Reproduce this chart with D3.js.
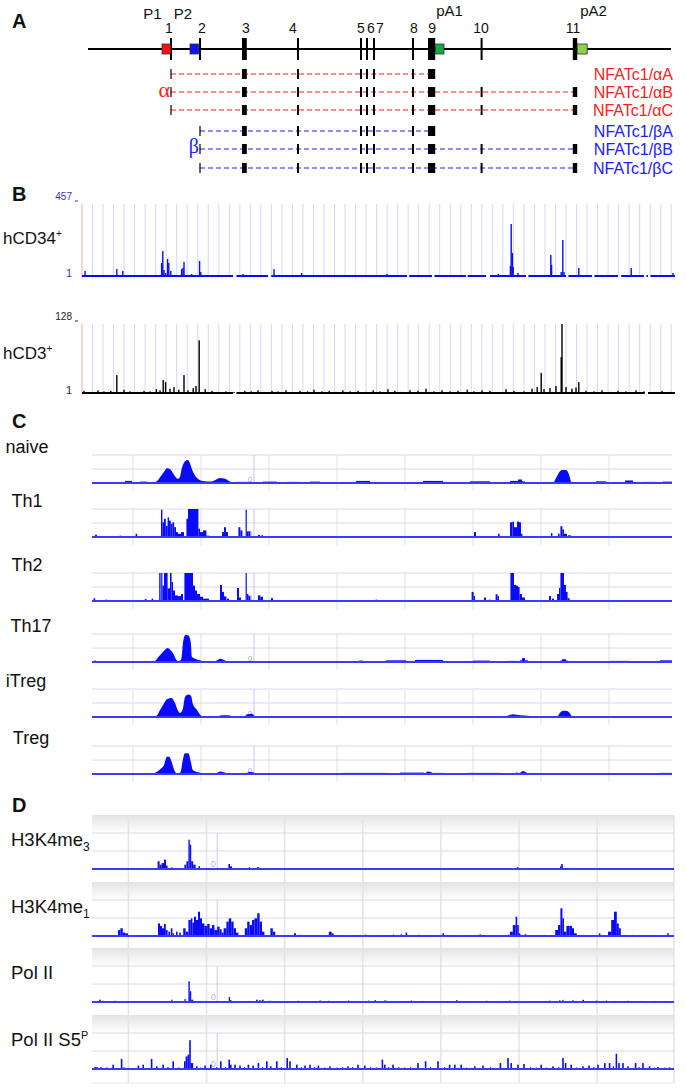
<!DOCTYPE html>
<html><head><meta charset="utf-8">
<script src="https://cdn.jsdelivr.net/npm/d3@7"></script>
<style>body{margin:0;background:#fff;}svg{display:block;font-family:"Liberation Sans",Arial,sans-serif;}</style>
</head><body><svg id="chart" width="686" height="1089"></svg>
<script>
// ======================= DATA =======================
// Panel A - NFATc1 gene model (positions in kb from region start)
const exonIds = ["1","2","3","4","5","6","7","8","9","10","11"];
const exonPos = [20.75,28,39.1,52.5,68.25,69.75,71.5,81.25,85.9,98.4,121.75];
const exonLen = [0.5,0.5,1.2,0.5,0.4,0.4,0.4,0.5,1.8,0.5,1.1];
const promoterNames = ["P1","P2"];
const promoterSpan = [[18.5,20.7],[25.5,27.7]];
const polyANames = ["pA1","pA2"];
const polyASpan = [[86.8,89],[122.3,124.8]];
const transcriptNames = ["NFATc1/αA","NFATc1/αB","NFATc1/αC","NFATc1/βA","NFATc1/βB","NFATc1/βC"];
const transcriptGroup = ["α","α","α","β","β","β"];
const transcriptExons = [
  [1,3,4,5,6,7,8,9],[1,3,4,5,6,7,8,9,10,11],[1,3,4,5,6,7,8,9,10,11],
  [2,3,4,5,6,7,8,9],[2,3,4,5,6,7,8,9,10,11],[2,3,4,5,6,7,8,9,10,11]];

// Panel B - DNase hypersensitivity tracks ([kb, value])
const bTrackNames = ["hCD34","hCD3"];
const bTrackMax = [457,128];
const hCD34 = [[0.75,33],[8.7,45],[10.2,33],[19.9,83],[20.2,159],[20.5,39],[20.9,20],[21.4,109],[21.7,83],[22.2,33],
  [24.9,45],[25.25,52],[25.5,90],[27.4,14],[29.4,96],[29.7,26],[40.25,14],[48,45],[54.9,20],[76.25,14],[104.1,14],
  [107.1,64],[107.3,330],[107.6,147],[107.8,58],[109,20],[117.2,134],[117.4,71],[119.8,26],[120.2,229],[120.5,26],
  [124.2,52],[137.3,52],[147.75,20]];
const hCD34Coverage = [[0,37.75],[38.6,46.5],[47.3,81.25],[81.8,87.5],[88.1,96],[96.4,101],[102,111],[111.6,121],
  [121.6,127.5],[128.1,134],[134.8,140.5],[141.1,141.5],[142.1,148.25]];
const hCD3 = [[8.7,34],[20.3,25],[20.9,21],[25.5,34],[29.3,98],[114.8,38],[119.8,67],[120.0,128],[124.2,21],
  [0.5,5],[2.4,3],[4,6],[5.5,4],[7.2,5],[10.5,7],[12,4],[13.8,3],[15.5,5],[17,4],[18.6,8],[19.5,6],[22,9],[23,12],
  [24.2,7],[26.5,6],[27.8,10],[28.5,14],[30.8,8],[32.5,5],[34,3],[36,4],[38,3],[40.7,5],[42.3,4],[44,6],[45.6,3],
  [47.5,5],[49,4],[51,6],[52.6,3],[54.5,5],[56.4,4],[58,7],[60,4],[61.8,5],[63.5,3],[65.2,6],[67,4],[69,5],[71,3],
  [72.8,6],[74.5,4],[76.5,8],[78.2,5],[80,3],[82,6],[84,5],[86,9],[88,4],[90,6],[92,4],[94,5],[96.3,7],[98,4],
  [100,6],[102,5],[104,3],[106,8],[108,5],[110.5,4],[112.5,9],[113.8,12],[115.5,8],[117,10],[118.5,14],[121,12],
  [122.5,9],[123.5,11],[126,5],[128,4],[130,6],[132,3],[134,5],[136,4],[138.5,6],[140.5,4],[143,3],[145,5],[147,3]];
const hCD3Coverage = [[0,37.75],[38.6,140.7],[141.5,148.25]];

// Panel C - T cell subsets: smooth profiles [kb, signal] and bars [start, end, signal]
const cTrackNames = ["naive","Th1","Th2","Th17","iTreg","Treg"];
const naiveShape = [[15.25,0],[16.25,0.15],[17.25,0.5],[18,0.8],[18.75,1.05],[19.5,1.0],[20.25,0.7],[21,0.4],[21.5,0.3],
  [22,0.45],[22.5,1.1],[23.25,1.55],[24,1.65],[24.5,1.4],[25.25,0.8],[26.25,0.35],[27,0.2],[28.25,0.12],[29.5,0.1],
  [30.75,0.2],[32,0.35],[33.25,0.3],[34.5,0.1],[35.75,0],[115.25,0],[116,0.35],[116.75,0.75],[117.5,0.92],
  [118.5,0.92],[119.25,0.6],[119.75,0.1],[120.25,0]];
const naiveBars = [[0,7,0.06],[8.25,10,0.15],[10,12,0.05],[12,13.75,0.1],[13.75,15.5,0.06],[35.5,40,0.08],[41,42.5,0.05],
  [42.75,46.25,0.1],[46.25,48.75,0.05],[48.75,52,0.08],[52,54.5,0.05],[54.5,57,0.1],[57,58.75,0.05],[58.75,62,0.07],
  [62,66,0.05],[66,69.5,0.15],[69.5,82.75,0.06],[82.75,87.75,0.15],[87.75,94.5,0.06],[94.5,99.5,0.12],[99.5,104.5,0.06],
  [104.5,106.5,0.15],[106.5,107.5,0.25],[107.5,108.25,0.12],[108.25,115,0.06],[120.5,126,0.06],[126,128.5,0.12],
  [128.5,133.25,0.05],[133.25,135.25,0.18],[135.25,137.75,0.05],[137.75,141,0.08],[141,142.75,0.05],[142.75,145,0.1]];
const th1Bars = [[0.75,1.25,0.16],[6.9,7.3,0.1],[10.9,11.3,0.23],
  [17.25,17.6,1.95],[17.6,18,1.05],[18,18.45,1.3],[18.45,18.9,0.8],[18.9,19.25,1.4],[19.25,19.7,1.17],[19.7,20.1,0.94],
  [20.1,20.55,1.05],[20.55,21,0.7],[21,21.5,0.35],[21.5,22.25,0.23],[22.25,23,0.35],
  [23.6,24,1.3],[24,26.6,2],[26.6,27,0.6],[27,27.75,0.35],[27.75,28.6,0.47],[28.6,29.25,0.1],[30,30.5,0.05],
  [32.5,33,0.35],[33,33.5,0.7],[33.5,34,0.35],[36.6,37.1,0.7],[37.1,37.6,0.47],[38.4,38.7,1.95],[38.7,39.1,0.4],
  [39.1,39.6,0.4],[41.5,42,0.15],[42.3,42.75,0.12],
  [95.5,96,0.35],[101.5,101.9,0.23],[103.5,103.8,0.05],[104.5,105.1,1.05],[105.1,105.5,1.1],[105.5,106.25,0.7],
  [106.25,106.75,1.1],[106.75,107.25,1.05],[107.25,107.6,0.23],
  [114.75,115.1,0.28],[116.5,116.9,0.23],[117.1,117.6,0.77],[117.6,118,0.54],[118,118.75,0.23],[119,119.75,0.12]];
const th2Bars = [[0.4,0.8,0.2],[3.4,3.8,0.1],[13.2,13.6,0.15],[14.9,15.3,0.17],
  [16.8,17.15,2],[17.3,17.6,2],[17.6,18,1.1],[18,18.5,2],[18.5,18.9,2],[18.9,19.5,0.9],[19.5,19.9,2],[19.9,20.25,1.35],
  [20.25,20.75,0.75],[20.75,21.5,0.4],[21.5,22.25,0.35],[22.25,22.75,0.5],
  [23.1,23.5,2],[23.5,25.25,2],[25.25,25.75,1.1],[25.75,26.25,0.75],[26.25,27,0.5],[27,27.75,0.3],[27.75,28.5,0.17],
  [28.5,29.25,0.17],[32,32.5,1.15],[32.5,33,0.65],[33,33.6,0.33],[33.75,34.25,0.17],[36.25,36.75,0.93],[36.75,37.25,0.25],
  [38.4,38.7,2],[38.7,39.1,0.5],[39.1,39.6,0.35],[41.5,42.1,0.4],[42.1,42.75,0.3],[44.75,45.25,0.2],
  [70.9,71.3,0.1],[90.25,90.6,0.07],[94.9,95.4,0.65],[95.4,95.75,0.35],[98,98.5,0.25],[99.25,99.6,0.1],[100.9,101.4,0.48],
  [101.4,101.75,0.35],[104.6,105.5,2],[105.5,106,1.15],[106,106.5,1.1],[106.5,106.9,1],[106.9,107.5,0.5],[107.5,108.25,0.25],
  [114.25,114.75,0.35],[115,115.5,0.17],[116.25,116.75,0.5],[116.75,117.1,0.93],[117.1,118,2],[118,118.5,1.15],
  [118.5,118.9,0.65],[118.9,119.4,0.2]];
const th17Shape = [[15.25,0],[15.75,0.07],[16.6,0.35],[17.4,0.6],[18.25,0.87],[18.9,1.0],[19.7,0.82],[20.3,0.6],[20.9,0.24],
  [21.6,0.07],[22.2,0.12],[22.4,0.35],[22.8,1.5],[23.4,1.95],[24.1,1.9],[24.7,1.4],[24.95,0.4],[25.75,0.24],[27,0.12],
  [27.75,0.04],[28.25,0],[30.5,0],[31.25,0.12],[32,0.24],[32.75,0.18],[33.75,0.05],[34.25,0]];
const th17Bars = [[0.5,1,0.1],[1.5,2.5,0.05],[3.75,4.25,0.05],[6.25,6.75,0.05],[8,8.5,0.05],[12,13.75,0.06],[29.75,30.25,0.05],
  [34.75,35.25,0.05],[36.75,37.25,0.05],[42.25,42.75,0.05],[44.25,44.75,0.05],[46.25,46.75,0.05],[49.25,49.75,0.05],
  [51.75,52.25,0.06],[54.25,54.75,0.05],[57.25,57.75,0.06],[60.5,61,0.05],[62.75,65.5,0.06],[66.75,67.75,0.1],[69.5,70.5,0.06],
  [73.5,78.5,0.12],[80.75,87.75,0.15],[90.5,91,0.05],[95.25,99.5,0.1],[100.5,101,0.05],[104,106,0.08],[107,107.5,0.12],
  [107.5,108.25,0.28],[108.25,109,0.12],[111.75,112.25,0.05],[114.75,115.25,0.05],[117,117.5,0.1],[117.5,118.5,0.2],
  [118.5,119,0.1],[120.25,127.75,0.07],[129.5,134.5,0.08],[137.75,138.5,0.05],[142,145,0.12]];
const iTregShape = [[15.5,0],[16.2,0.1],[16.8,0.4],[17.8,0.88],[18.8,1.29],[19.9,1.36],[20.75,1.0],[21.4,0.52],[22,0.29],
  [22.7,0.57],[23.25,1.43],[24.1,1.6],[24.75,1.52],[25.2,0.95],[26.2,0.52],[27.25,0.1],[27.75,0],[31.25,0],[32,0.1],
  [33.25,0.12],[34.5,0.1],[35,0],[38,0],[38.75,0.2],[40,0.24],[41,0],[103,0],[104,0.1],[105.25,0.2],[107,0.12],
  [109.5,0.08],[110.25,0],[116.25,0],[117,0.3],[117.75,0.45],[118.75,0.42],[119.5,0.25],[120,0]];
const iTregBars = [[0.75,1.5,0.06],[2,2.5,0.05],[4,4.5,0.05],[7,7.5,0.05],[45.25,45.75,0.05],[47.5,48,0.05],[52,52.5,0.05],
  [57,57.5,0.05],[60.25,62.75,0.06],[64.25,64.75,0.05],[67.75,69.75,0.07],[73,73.5,0.05],[83.5,87.75,0.07],[94.75,96,0.07],
  [98,98.5,0.05],[102,102.5,0.05],[124,124.5,0.05],[127,127.5,0.05],[131.5,132.5,0.07],[137,137.5,0.05],[138.5,139,0.05]];
const tregShape = [[15.25,0],[15.9,0.1],[17,0.33],[18,0.64],[18.7,1.24],[19.3,1.24],[19.9,0.88],[20.5,0.33],[21.2,0.05],
  [21.75,0.05],[22.2,0.17],[22.7,1.0],[23.25,1.48],[24.1,1.48],[24.7,0.88],[25.2,0.29],[26.6,0.12],[27.5,0.04],[28,0],
  [30.75,0],[32,0.17],[33.5,0.08],[34.25,0],[38.25,0],[39.25,0.15],[40.25,0.12],[41,0],[83,0],[84,0.17],[85,0.1],
  [85.5,0],[106.5,0],[107.75,0.21],[108.75,0.08],[109.25,0]];
const tregBars = [[0.75,15,0.06],[27.5,31,0.05],[34.5,38.5,0.05],[40.25,62.75,0.06],[62.75,73.5,0.08],[77,83,0.1],
  [85.5,87.75,0.08],[93.5,102,0.08],[106,106.5,0.1],[109.25,109.5,0.08],[110.25,114.5,0.05],[122.75,127.75,0.07],
  [129.5,133.5,0.07],[142,145,0.08]];
const cShapes = [naiveShape,null,null,th17Shape,iTregShape,tregShape];
const cBars = [naiveBars,th1Bars,th2Bars,th17Bars,iTregBars,tregBars];

// Panel D - histone marks / Pol II ([start, end, signal])
const dTrackNames = ["H3K4me","H3K4me","Pol II","Pol II S5"];
const dTrackScripts = ["3","1","","P"];
const h3k4me3Bars = [[16.4,16.9,0.43],[16.9,17.4,0.24],[17.4,18,0.33],[18,18.5,0.52],[18.5,18.9,0.19],[19.8,20.1,0.1],
  [23.1,23.5,0.24],[23.6,24.1,0.43],[24.1,24.45,1.63],[24.45,24.8,1.35],[24.8,25.3,0.43],[25.3,25.9,0.24],[26.6,27,0.15],
  [34.1,34.5,0.28],[34.5,35,0.15],[39.2,39.5,0.1],[41.2,41.8,0.1],[106.2,106.6,0.1],[117,117.3,0.15],[117.3,117.7,0.28]];
const h3k4me1Bars = [[1.8,2.2,0.05],[3.1,3.4,0.05],[6.5,7.1,0.33],[7.1,7.7,0.43],[7.7,8.3,0.19],[8.3,9,0.15],[9.8,10.1,0.05],
  [11.1,11.4,0.06],[12.3,12.6,0.06],[13.6,13.9,0.05],[14.8,15.1,0.06],
  [16.5,17,0.7],[17,17.5,0.56],[17.5,18,0.43],[18,18.45,0.67],[18.45,18.9,0.33],[19.1,19.5,0.24],[19.7,20.1,0.43],
  [20.1,20.5,0.15],[21,21.4,0.24],[21.8,22.2,0.19],[22.8,23.4,0.43],[23.4,24.1,0.24],[24.1,24.7,0.89],[24.7,25.1,0.98],
  [25.1,25.5,0.74],[25.5,26,1.07],[26,26.5,0.89],[26.5,27,1.35],[27,27.5,0.98],[27.5,28.1,0.7],[28.1,28.8,0.56],
  [28.8,29.4,0.67],[29.4,30,0.43],[30,30.6,0.61],[30.6,31.3,0.33],[31.3,31.9,0.52],[31.9,32.4,0.37],[32.4,32.9,0.19],
  [32.9,33.6,0.43],[33.6,34.2,0.8],[34.2,34.8,0.98],[34.8,35.4,0.8],[35.4,36,0.43],[36,36.6,0.19],[36.8,37.2,0.05],
  [38.2,38.8,0.43],[38.8,39.4,0.8],[39.4,40,0.61],[40,40.6,0.89],[40.6,41.3,0.98],[41.3,41.9,1.26],[41.9,42.5,0.8],
  [42.5,43.1,0.24],[43.5,43.9,0.05],[44.6,45.2,0.43],[45.2,45.8,0.24],[46.8,47.2,0.05],[48.9,49.3,0.06],[50.5,51,0.15],
  [51.8,52.2,0.06],[54.7,55,0.05],[57.2,57.6,0.06],[59.2,59.9,0.24],[59.9,60.4,0.15],
  [64,64.3,0.06],[66.5,66.8,0.05],[68.2,68.5,0.08],[70.2,70.5,0.06],[71.5,71.8,0.05],[72.7,73,0.06],[75.2,75.5,0.08],
  [76,76.3,0.06],[77.2,77.5,0.1],[78.4,78.8,0.19],[79.5,79.8,0.05],[81.5,81.8,0.07],[84.5,84.8,0.05],[87,87.3,0.06],
  [87.6,88,0.15],[91.5,91.8,0.06],[92.2,92.5,0.05],[96,96.3,0.06],[96.9,97.2,0.1],[97.7,98,0.06],[99,99.3,0.06],
  [102,102.3,0.06],[104,104.3,0.08],
  [104.5,105.2,0.24],[105.2,105.9,0.61],[105.9,106.3,1.07],[106.3,106.7,0.61],[106.7,107.1,0.15],[108.2,108.6,0.1],
  [109.6,110,0.06],[113,113.4,0.06],[115.8,116.5,0.33],[116.5,117.1,0.61],[117.1,117.6,1.54],[117.6,118,0.98],
  [118,118.6,0.24],[118.6,119.4,0.56],[119.4,120,0.56],[120,120.5,0.43],[120.5,121.2,0.15],[123.4,123.8,0.05],
  [126.7,127.1,0.15],[129,129.8,0.24],[129.8,130.5,0.89],[130.5,131.2,1.35],[131.2,131.7,0.7],[131.7,132.2,0.43],
  [133,133.4,0.06],[135,135.5,0.06],[138,138.3,0.05],[143.8,144.2,0.15]];
const polIIBars = [[1.8,2.2,0.13],[2.7,3,0.07],[5.6,5.9,0.07],[8.5,8.8,0.05],[10.6,10.9,0.05],[14.8,15.1,0.05],[19.8,20.1,0.13],
  [23.1,23.4,0.17],[24.1,24.45,1.15],[24.45,24.8,0.6],[24.8,25.3,0.13],[26.9,27.2,0.06],[34.2,34.5,0.28],[34.5,34.9,0.1],
  [39.1,39.4,0.06],[41,41.4,0.13],[41.8,42.2,0.1],[42.5,42.9,0.13],[44.4,44.7,0.07],[51.4,51.7,0.07],[56.9,57.2,0.09],
  [59,59.3,0.07],[64,64.3,0.08],[66.5,66.8,0.06],[69,69.3,0.08],[70.6,71,0.1],[73,73.6,0.08],[76,76.3,0.06],[79.7,80,0.08],
  [82.6,82.9,0.06],[91,91.4,0.1],[94.3,94.6,0.06],[98.5,98.8,0.07],[101.4,101.7,0.06],[104.3,104.6,0.08],[106.8,107.1,0.06],
  [114.3,114.6,0.08],[116.8,117.1,0.1],[117.6,117.9,0.12],[120.1,120.4,0.1],[122.6,123,0.12],[126,126.3,0.08],
  [128.5,128.8,0.08],[130.1,130.4,0.06],[133.9,134.2,0.07],[137.2,137.5,0.06],[140.1,140.4,0.06],[143.1,143.4,0.06]];
const polIIS5PBars = [[0.5,1.5,0.1],[2,2.4,0.1],[3.5,3.9,0.08],[5.1,5.5,0.24],[7.2,7.6,0.56],[7.8,8.2,0.09],[9,9.4,0.06],
  [11.4,11.8,0.19],[12.6,13,0.24],[14.7,15.1,0.56],[16,16.4,0.15],[17.6,18,0.24],[18.8,19.2,0.1],[20.1,20.5,0.43],
  [21.5,21.9,0.08],[23,23.4,0.43],[23.4,23.9,0.7],[23.9,24.3,0.8],[24.3,24.7,1.6],[24.7,25.3,0.33],[26,26.4,0.15],
  [27,27.3,0.08],[28.05,28.45,0.19],[29.5,29.9,0.24],[31,31.3,0.1],[32,32.4,0.43],[33.2,33.5,0.1],[34.1,34.5,0.52],
  [34.5,34.9,0.24],[35.55,35.95,0.24],[36.8,37.2,0.19],[38,38.3,0.1],[38.9,39.3,0.24],[40.1,40.5,0.19],[41.4,41.8,0.33],
  [42.5,42.8,0.1],[43.5,43.9,0.43],[44.5,44.9,0.15],[46,46.4,0.43],[47.2,47.5,0.1],[48.6,49,0.61],[49.3,49.7,0.43],
  [51,51.4,0.24],[52.2,52.5,0.1],[53.05,53.45,0.19],[54.3,54.7,0.24],[55.5,55.8,0.1],[56.4,56.8,0.19],[58,58.3,0.08],
  [59.3,59.7,0.15],[61,61.3,0.08],[62.5,62.8,0.1],[63.8,64.2,0.15],[65,65.3,0.1],[66.3,66.7,0.24],[68,68.4,0.19],
  [69.5,69.8,0.1],[71,71.3,0.08],[72.4,72.8,0.52],[73,73.4,0.24],[74,74.3,0.1],[75.05,75.45,0.24],[76.5,76.8,0.1],
  [78,78.3,0.08],[79.5,79.8,0.1],[81.3,81.7,0.33],[83.2,83.6,0.43],[84.5,84.8,0.1],[86.3,86.7,0.43],[88,88.3,0.1],
  [89.2,89.6,0.24],[90.5,90.9,0.24],[92.1,92.5,0.24],[93.5,93.8,0.08],[95.5,95.9,0.15],[97.55,97.95,0.19],[99.5,99.8,0.1],
  [101.9,102.3,0.33],[103.8,104.2,0.61],[104.6,105,0.33],[106.3,106.7,0.24],[107.8,108.2,0.28],[109.5,109.8,0.1],
  [111,111.3,0.08],[112.1,112.5,0.24],[113.5,113.8,0.08],[115.05,115.45,0.15],[116.5,116.8,0.1],[117.55,117.95,0.61],
  [118.2,118.6,0.33],[119.6,120,0.24],[121,121.3,0.08],[122.55,122.95,0.15],[124.05,124.45,0.19],[125.3,125.6,0.1],
  [126.3,126.7,0.24],[128,128.4,0.33],[129.2,129.6,0.33],[130.2,130.5,0.15],[130.9,131.3,0.85],[131.55,131.95,0.33],
  [132.55,132.95,0.33],[133.8,134.2,0.15],[135.7,136.1,0.33],[136.6,136.9,0.1],[137.55,137.95,0.33],[139.2,139.6,0.15],
  [140.5,140.8,0.08],[141.3,141.7,0.11],[143,143.3,0.08],[144.2,144.6,0.09]];
const dBars = [h3k4me3Bars,h3k4me1Bars,polIIBars,polIIS5PBars];

// ======================= LAYOUT / STYLE =======================
const svg = d3.select("#chart");
const BLUE = "#0a0aff";
const defs = svg.append("defs");
const grad = defs.append("linearGradient").attr("id","band").attr("x1",0).attr("x2",0).attr("y1",0).attr("y2",1);
grad.append("stop").attr("offset","0%").attr("stop-color","#e3e3e3");
grad.append("stop").attr("offset","100%").attr("stop-color","#ffffff");

// panel letters
[["A",28],["B",201],["C",428],["D",812]].forEach(([t,y]) =>
  svg.append("text").attr("x",12).attr("y",y).attr("font-size",20).attr("font-weight","bold").attr("fill","#111").text(t));

// ---------- Panel A ----------
const xA = d3.scaleLinear().domain([0,145.75]).range([88,671]);
const gA = svg.append("g");
const exW = i => Math.max(2, xA(exonLen[i]) - xA(0));
gA.append("line").attr("x1",xA(0)).attr("x2",xA(145.75)).attr("y1",49).attr("y2",49).attr("stroke","#000").attr("stroke-width",2);
gA.selectAll("rect.exon").data(exonPos).join("rect").attr("class","exon")
  .attr("x",(d,i)=>xA(d)-exW(i)/2).attr("width",(d,i)=>exW(i)).attr("y",38).attr("height",22).attr("fill","#000");
const exonLabelDx = [-2,2,1.5,-5,0,4,6,1,0.5,-0.5,-2];
gA.selectAll("text.exl").data(exonIds).join("text").attr("class","exl")
  .attr("x",(d,i)=>xA(exonPos[i])+exonLabelDx[i]).attr("y",33).attr("text-anchor","middle")
  .attr("font-size",14).attr("fill","#111").text(d=>d);
const promColors = ["#ff1010","#1010ff"], polyAColors = ["#14a848","#8dd04e"];
gA.selectAll("rect.prom").data(promoterSpan).join("rect").attr("class","prom")
  .attr("x",d=>xA(d[0])).attr("width",d=>xA(d[1])-xA(d[0])).attr("y",44).attr("height",10)
  .attr("fill",(d,i)=>promColors[i]).attr("stroke","#333").attr("stroke-width",0.8);
gA.selectAll("rect.pa").data(polyASpan).join("rect").attr("class","pa")
  .attr("x",d=>xA(d[0])).attr("width",d=>xA(d[1])-xA(d[0])).attr("y",44).attr("height",10)
  .attr("fill",(d,i)=>polyAColors[i]).attr("stroke","#333").attr("stroke-width",0.8);
const promLabelDx = [-9.5,-7];
gA.selectAll("text.pl").data(promoterNames).join("text").attr("class","pl")
  .attr("x",(d,i)=>xA(promoterSpan[i][0])+promLabelDx[i]).attr("y",19).attr("text-anchor","middle")
  .attr("font-size",15).attr("fill","#111").text(d=>d);
const paLabelDx = [1,3];
gA.selectAll("text.pal").data(polyANames).join("text").attr("class","pal")
  .attr("x",(d,i)=>xA(polyASpan[i][0])+paLabelDx[i]).attr("y",16)
  .attr("font-size",15).attr("fill","#111").text(d=>d);

const rowY = [74,92,110,131,149,168];
const grpColor = {"α":"#ff2020","β":"#2020ff"};
transcriptNames.forEach((name,r)=>{
  const y = rowY[r], ex = transcriptExons[r], col = grpColor[transcriptGroup[r]];
  const x0 = xA(exonPos[ex[0]-1]), x1 = xA(exonPos[ex[ex.length-1]-1]);
  gA.append("line").attr("x1",x0).attr("x2",x1).attr("y1",y).attr("y2",y)
    .attr("stroke",col).attr("stroke-width",1.2).attr("stroke-dasharray","5,3");
  gA.selectAll(null).data(ex).join("rect")
    .attr("x",(e,k)=>{const w = k===0?1.2:Math.max(1.6,exW(e-1)); return xA(exonPos[e-1])-w/2;})
    .attr("width",(e,k)=>k===0?1.2:Math.max(1.6,exW(e-1)))
    .attr("y",y-5).attr("height",10).attr("fill","#000");
  gA.append("text").attr("x",673).attr("y",y+5.5).attr("text-anchor","end").attr("font-size",16)
    .attr("fill",col).text(name);
});
gA.append("text").attr("x",xA(exonPos[0])-1).attr("y",97).attr("text-anchor","end")
  .attr("font-family","'Liberation Serif',serif").attr("font-size",22).attr("fill","#ff2020").text("α");
gA.append("text").attr("x",xA(exonPos[1])-1).attr("y",153).attr("text-anchor","end")
  .attr("font-family","'Liberation Serif',serif").attr("font-size",20).attr("fill","#2020ff").text("β");

// ---------- Panel B ----------
const xB = d3.scaleLinear().domain([0,148.25]).range([82,675]);
const bLayout = [{top:204,base:276,labelY:244,color:"#0a0aff",numColor:"#3434c8",data:hCD34,cov:hCD34Coverage},
                 {top:324,base:393,labelY:359,color:"#000",numColor:"#222",data:hCD3,cov:hCD3Coverage}];
const gridB = d3.range(1,57).map(i=>i*147.3/56);
bLayout.forEach((L,t)=>{
  const g = svg.append("g");
  const y = d3.scaleLinear().domain([1,bTrackMax[t]]).range([L.base,L.top]).clamp(true);
  g.selectAll("line.gr").data(gridB).join("line").attr("x1",d=>xB(d)).attr("x2",d=>xB(d))
    .attr("y1",L.top).attr("y2",L.base).attr("stroke","#d6d6f6").attr("stroke-width",1);
  g.append("line").attr("x1",xB(0)).attr("x2",xB(0)).attr("y1",L.top).attr("y2",L.base+2).attr("stroke","#f0a8a8");
  g.selectAll("rect").data(L.data).join("rect").attr("x",d=>xB(d[0])-0.7).attr("width",1.4)
    .attr("y",d=>y(d[1])).attr("height",d=>L.base-y(d[1])).attr("fill",L.color);
  g.selectAll("line.cov").data(L.cov).join("line").attr("x1",d=>xB(d[0])).attr("x2",d=>xB(d[1]))
    .attr("y1",L.base).attr("y2",L.base).attr("stroke",L.color).attr("stroke-width",2);
  g.append("text").attr("x",72).attr("y",L.top-4).attr("text-anchor","end").attr("font-size",10)
    .attr("font-family","'Liberation Sans Narrow','Liberation Sans',sans-serif").attr("fill",L.numColor).text(bTrackMax[t]);
  g.append("line").attr("x1",75).attr("x2",78).attr("y1",L.top-3).attr("y2",L.top-3).attr("stroke",L.numColor);
  g.append("text").attr("x",72).attr("y",L.base+1).attr("text-anchor","end").attr("font-size",11)
    .attr("fill",L.numColor).text("1");
  const lt = g.append("text").attr("x",3).attr("y",L.labelY).attr("font-size",17).attr("fill","#111");
  lt.append("tspan").text(bTrackNames[t]);
  lt.append("tspan").attr("font-size",10).attr("dy",-7).text("+");
});

// ---------- Panel C ----------
const xC = d3.scaleLinear().domain([0,145]).range([92,672]);
const cBase = [483,537,601,662,717,774];
const cLabelX = [27,27,27,31,26,31];
const gridC = d3.range(0,8).map(i=>10.25+17*i);
cTrackNames.forEach((name,t)=>{
  const base = cBase[t], g = svg.append("g");
  const y = d3.scaleLinear().domain([0,2]).range([base,base-28]).clamp(true);
  g.selectAll("line.h").data([1,2]).join("line").attr("x1",xC(0)).attr("x2",xC(145))
    .attr("y1",d=>y(d)).attr("y2",d=>y(d)).attr("stroke","#d8d8f0");
  g.selectAll("line.v").data(gridC).join("line").attr("x1",d=>xC(d)).attr("x2",d=>xC(d))
    .attr("y1",y(2)).attr("y2",base+8).attr("stroke","#dedee8");
  g.append("line").attr("x1",xC(40.5)).attr("x2",xC(40.5)).attr("y1",y(2)).attr("y2",base).attr("stroke","#c4c4f2");
  g.append("text").attr("x",xC(39.5)).attr("y",base-1).attr("text-anchor","middle").attr("font-size",8).attr("fill","#a8a8ee").text("0");
  if (cShapes[t]) {
    const area = d3.area().x(d=>xC(d[0])).y0(base).y1(d=>y(d[1])).curve(d3.curveMonotoneX);
    g.append("path").datum(cShapes[t]).attr("d",area).attr("fill",BLUE);
  }
  g.selectAll("rect").data(cBars[t]).join("rect").attr("x",d=>xC(d[0])).attr("width",d=>Math.max(1,xC(d[1])-xC(d[0])))
    .attr("y",d=>y(d[2])).attr("height",d=>base-y(d[2])).attr("fill",BLUE);
  g.append("line").attr("x1",xC(0)).attr("x2",xC(145)).attr("y1",base).attr("y2",base).attr("stroke","#3a3aff").attr("stroke-width",2);
  g.append("text").attr("x",cLabelX[t]).attr("y",base-30).attr("text-anchor","middle").attr("font-size",18).attr("fill","#111").text(name);
});

// ---------- Panel D ----------
const xD = d3.scaleLinear().domain([0,145.5]).range([92,674]);
const dBase = [869,936,1002,1069];
const gridD = d3.range(0,7).map(i=>9.1+19.53*i);
const gDall = svg.append("g");
dTrackNames.forEach((name,t)=>{
  const base = dBase[t];
  gDall.append("rect").attr("x",xD(0)).attr("width",xD(145.5)-xD(0)).attr("y",base-54).attr("height",18).attr("fill","url(#band)");
});
gDall.selectAll("line.v").data(gridD.concat([145.5])).join("line").attr("x1",d=>xD(d)).attr("x2",d=>xD(d))
  .attr("y1",815).attr("y2",1083).attr("stroke","#e2e2ea").attr("stroke-width",1.5);
gDall.append("line").attr("x1",xD(0)).attr("x2",xD(145.5)).attr("y1",1083).attr("y2",1083).attr("stroke","#e8e8ee");
dTrackNames.forEach((name,t)=>{
  const base = dBase[t], g = svg.append("g");
  const y = d3.scaleLinear().domain([0,2]).range([base,base-36]).clamp(true);
  g.selectAll("line.h").data([1,2]).join("line").attr("x1",xD(0)).attr("x2",xD(145.5))
    .attr("y1",d=>y(d)).attr("y2",d=>y(d)).attr("stroke","#d8d8ec");
  g.append("line").attr("x1",xD(31.3)).attr("x2",xD(31.3)).attr("y1",y(2)).attr("y2",base).attr("stroke","#cacaf0");
  g.append("text").attr("x",xD(30.3)).attr("y",base-2).attr("text-anchor","middle").attr("font-size",9).attr("fill","#b0b0ee").text("0");
  g.selectAll("rect").data(dBars[t]).join("rect").attr("x",d=>xD(d[0])).attr("width",d=>Math.max(1,xD(d[1])-xD(d[0])))
    .attr("y",d=>y(d[2])).attr("height",d=>base-y(d[2])).attr("fill",BLUE);
  g.append("line").attr("x1",xD(0)).attr("x2",xD(145.5)).attr("y1",base).attr("y2",base).attr("stroke","#3a3aff").attr("stroke-width",2);
  const lt = g.append("text").attr("x",11).attr("y",base-23).attr("font-size",18.5).attr("fill","#111");
  lt.append("tspan").text(name);
  if (dTrackScripts[t]==="P") lt.append("tspan").attr("font-size",11).attr("dy",-7).text("P");
  else if (dTrackScripts[t]) lt.append("tspan").attr("font-size",12).attr("dy",5).text(dTrackScripts[t]);
});
</script></body></html>
